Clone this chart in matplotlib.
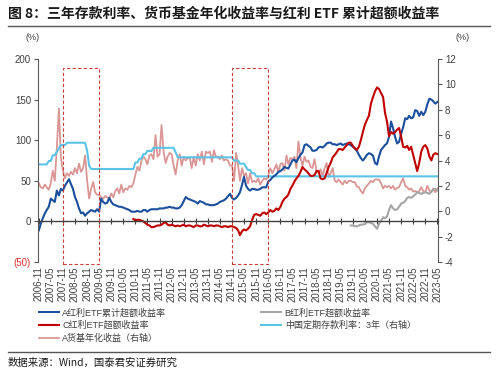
import numpy as np
import pandas as pd
import matplotlib
matplotlib.use("Agg")
import matplotlib.pyplot as plt
from matplotlib.patches import Rectangle
from matplotlib.lines import Line2D

plt.rcParams['font.family'] = ['Liberation Sans', 'Noto Sans CJK SC', 'DejaVu Sans']

# monthly dates 2006-11 .. 2023-05
dates = pd.date_range('2006-11-01', '2023-05-01', freq='MS')
tick_dates = pd.date_range('2006-11-01', '2023-05-01', freq='6MS')

# A dividend ETF cumulative excess return (left axis, %)
a_cum_excess = [
    -11, -3, 4, 10, 14, 18, 28, 26, 24, 38,
    32, 40, 38, 44, 48, 52, 46, 40, 30, 24,
    16, 10, 11, 7, 10, 12, 14, 13, 12, 15,
    12, 28, 24, 22, 23, 29, 24, 21, 20, 19,
    18, 18, 17, 16, 15, 14, 12, 12, 12, 13,
    12, 12, 14, 14, 12, 14, 15, 15, 15, 15,
    16, 16, 16, 17, 17, 18, 17, 17, 16, 16,
    17, 20, 25, 30, 28, 27, 26, 25, 24, 22,
    25, 24, 23, 21, 21, 20, 20, 20, 21, 22,
    24, 25, 26, 28, 31, 34, 29, 27, 29, 32,
    36, 45, 55, 44, 40, 38, 40, 40, 39, 39,
    40, 42, 42, 42, 49, 51, 54, 56, 58, 61,
    62, 64, 67, 66, 65, 70, 75, 76, 73, 78,
    82, 85, 94, 95, 93, 91, 87, 87, 88, 91,
    92, 91, 93, 96, 97, 97, 95, 95, 94, 95,
    96, 94, 95, 96, 95, 94, 92, 90, 87, 82,
    78, 75, 78, 82, 84, 83, 81, 72, 70, 80,
    88, 91, 94, 96, 104, 123, 115, 104, 96, 98,
    108, 116, 127, 126, 130, 127, 128, 137, 136, 130,
    135, 131, 135, 144, 151, 150, 148, 145, 147,
]

# C dividend ETF excess return (left axis, %), from 2010-10
c_start = '2010-10-01'
c_excess = [
    3, 1, 2,
    2, 1, 0, -2, -4, -5, -7, -7, -6, -5,
    -5, -4, -2, -1, -4, -5, -4, -5, -6, -5,
    -6, -5, -4, -6, -5, -5, -6, -7, -5, -5,
    -6, -6, -4, -5, -6, -5, -5, -6, -5, -5,
    -6, -7, -6, -6, -7, -6, -6, -7, -8, -11,
    -17, -12, -10, -11, -9, -6, 2, 8, 9, 8,
    7, 10, 11, 9, 11, 14, 12, 13, 16, 14,
    18, 24, 28, 30, 33, 40, 44, 49, 53, 56,
    61, 67, 64, 62, 59, 56, 56, 57, 62, 62,
    53, 52, 53, 60, 67, 72, 79, 82, 85, 89,
    89, 88, 91, 94, 97, 97, 93, 90, 88, 92,
    100, 110, 119, 125, 130, 145, 153, 160, 165, 163,
    158, 153, 134, 123, 105, 110, 108, 110, 113, 115,
    104, 92, 91, 93, 88, 92, 82, 72, 62, 72,
    86, 92, 94, 90, 80, 75, 82, 84, 83,
]

# B dividend ETF excess return (left axis, %), from 2019-10
b_start = '2019-10-01'
b_excess = [
    -5, -5, -6, -6, -5,
    -4, -4, -3, -1, -1, -2, -3, -6, -9, -3,
    1, 5, 4, 6, 14, 20, 16, 14, 15, 18,
    22, 23, 25, 29, 30, 29, 31, 33, 36, 35,
    34, 35, 36, 35, 34, 37, 39, 40, 38,
]

# A money fund annualized yield (right axis, %)
mmf_yield = [
    2.2, 1.9, 1.8, 2.1, 1.9, 1.7, 2.2, 3.2, 2.4, 5.0,
    8.1, 4.2, 3.2, 2.6, 3.0, 2.8, 3.1, 2.9, 3.4, 3.0,
    3.75, 3.1, 3.4, 4.4, 2.4, 1.0, 1.8, 2.3, 1.5, 1.3,
    1.3, 1.1, 1.0, 1.2, 1.1, 1.0, 1.4, 1.1, 1.6, 1.8,
    1.4, 2.1, 1.5, 1.8, 1.7, 2.0, 1.9, 2.2, 2.9, 3.5,
    3.2, 4.0, 4.3, 4.1, 3.7, 4.4, 4.5, 4.1, 6.0, 4.3,
    4.5, 6.8, 4.7, 3.8, 4.3, 4.6, 4.5, 3.6, 2.9, 4.0,
    4.5, 3.6, 4.3, 4.0, 4.2, 4.2, 3.4, 4.3, 3.6, 4.5,
    4.0, 4.7, 3.7, 4.7, 4.6, 4.7, 3.9, 4.8, 4.3, 4.3,
    4.1, 4.4, 4.0, 4.1, 4.0, 3.6, 3.6, 2.4, 4.6, 3.6,
    2.4, 3.4, 2.8, 3.0, 2.2, 3.0, 2.3, 2.4, 2.3, 2.6,
    2.1, 2.4, 2.6, 2.5, 2.8, 3.4, 3.0, 3.3, 3.7, 3.1,
    3.7, 3.8, 3.2, 4.4, 3.7, 4.2, 4.1, 4.3, 3.4, 5.5,
    4.2, 3.6, 4.3, 3.9, 4.0, 3.5, 3.4, 4.1, 3.2, 3.0,
    3.3, 2.8, 3.4, 3.8, 2.7, 3.0, 3.4, 2.4, 2.3, 2.5,
    2.3, 2.1, 2.4, 2.2, 2.4, 2.4, 2.3, 2.3, 1.95, 1.9,
    1.6, 1.4, 1.8, 2.0, 2.2, 2.4, 2.3, 2.5, 2.5, 2.5,
    2.2, 1.8, 2.0, 1.9, 2.0, 1.8, 2.0, 1.7, 1.85, 1.9,
    2.3, 2.6, 2.0, 1.9, 1.7, 1.8, 1.55, 1.6, 1.5, 1.6,
    1.9, 1.6, 1.5, 2.0, 1.65, 1.5, 1.8, 1.5, 1.8,
]

# China 3-year time deposit rate (right axis, %): change dates and new rate
dep_dates = ['2006-11-01', '2007-03-18', '2007-05-19', '2007-07-21', '2007-08-22',
             '2007-09-15', '2007-12-21', '2008-10-09', '2008-10-30', '2008-11-27',
             '2008-12-23', '2010-10-20', '2010-12-26', '2011-02-09', '2011-04-06',
             '2011-07-07', '2012-06-08', '2012-07-06', '2014-11-22', '2015-03-01',
             '2015-05-11', '2015-06-28', '2015-08-26', '2015-10-24']
dep_rates = [3.69, 3.96, 4.41, 4.68, 4.95, 5.22, 5.40, 5.13, 4.77, 3.60,
             3.33, 3.85, 4.15, 4.50, 4.75, 5.00, 4.65, 4.25, 4.00, 3.75,
             3.50, 3.25, 3.00, 2.75]

# highlighted periods
boxes = [('2007-11-01', '2009-05-01'), ('2014-11-01', '2016-05-01')]

left_ticks = [-50, 0, 50, 100, 150, 200]
left_labels = ['(50)', '0', '50', '100', '150', '200']
right_ticks = [-4, -2, 0, 2, 4, 6, 8, 10, 12]

BLUE = '#1C4F9C'
RED = '#C00000'
GRAY = '#A6A6A6'
LBLUE = '#5BC4E6'
PINK = '#D99694'
TXT = '#404040'

# monthly deposit rate, carried forward from each change
dep = pd.Series(dep_rates, index=pd.to_datetime(dep_dates))
dep_m = dep.reindex(dep.index.union(dates)).ffill().reindex(dates)

fig = plt.figure(figsize=(5, 3.77), dpi=100)
ax = fig.add_axes([0.076, 0.305, 0.80, 0.5385])
ax2 = ax.twinx()
ax.set_zorder(ax2.get_zorder() + 1)
ax.patch.set_visible(False)

l_mmf, = ax2.plot(dates, mmf_yield, color=PINK, lw=1.3)
l_dep, = ax2.plot(dates, dep_m.values, color=LBLUE, lw=1.5)

l_a, = ax.plot(dates, a_cum_excess, color=BLUE, lw=1.5)
c_dates = pd.date_range(c_start, periods=len(c_excess), freq='MS')
l_c, = ax.plot(c_dates, c_excess, color=RED, lw=1.5)
b_dates = pd.date_range(b_start, periods=len(b_excess), freq='MS')
l_b, = ax.plot(b_dates, b_excess, color=GRAY, lw=1.5)

xmin = pd.Timestamp('2006-10-20')
xmax = pd.Timestamp('2023-05-12')
ax.set_xlim(xmin, xmax)
ax.set_ylim(-50, 200)
ax2.set_ylim(-4, 12)

# dashed highlight boxes
for s, e in boxes:
    x0 = matplotlib.dates.date2num(pd.Timestamp(s))
    x1 = matplotlib.dates.date2num(pd.Timestamp(e))
    ax.add_patch(Rectangle((x0, -53), x1 - x0, 242, fill=False, ec='#C8413A',
                           lw=0.8, ls=(0, (3, 2)), clip_on=False, zorder=5))

# axes styling
for a in (ax, ax2):
    a.spines['top'].set_visible(False)
ax.spines['right'].set_visible(False)
ax2.spines['left'].set_visible(False)
ax2.spines['bottom'].set_visible(False)
ax.spines['left'].set_color('#595959')
ax2.spines['right'].set_color('#595959')
ax.spines['bottom'].set_position(('data', 0))
ax.spines['bottom'].set_color('#404040')
ax.spines['bottom'].set_linewidth(1.0)

ax.set_xticks(tick_dates)
ax.tick_params(axis='x', direction='inout', length=4, color='#404040', labelbottom=False)
ax2.tick_params(axis='x', length=0, labelbottom=False)

sec = ax.secondary_xaxis(0.0)
sec.set_xticks(tick_dates)
sec.set_xticklabels([d.strftime('%Y-%m') for d in tick_dates], rotation=90, fontsize=7, color=TXT)
sec.tick_params(length=0, pad=3)
sec.spines['bottom'].set_visible(False)

ax.set_yticks(left_ticks)
ax.set_yticklabels(left_labels, fontsize=7, color=TXT)
ax.get_yticklabels()[0].set_color('#E03030')
ax.tick_params(axis='y', length=3, color='#595959', pad=2)
ax2.set_yticks(right_ticks)
ax2.set_yticklabels([str(t) for t in right_ticks], fontsize=7, color=TXT)
ax2.tick_params(axis='y', length=3, color='#595959', pad=2)

fig.text(0.066, 0.893, '(%)', fontsize=6.5, color=TXT, ha='center')
fig.text(0.925, 0.893, '(%)', fontsize=6.5, color=TXT, ha='center')

# title and rules
fig.text(0.016, 0.965, '图 8：三年存款利率、货币基金年化收益率与红利 ETF 累计超额收益率',
         fontsize=10, fontweight='bold', color='#1A1A1A', va='center',
         family=['Noto Sans CJK SC', 'DejaVu Sans'])
fig.add_artist(Line2D([0.016, 0.98], [0.931, 0.931], color='#555555', lw=1.0))
fig.add_artist(Line2D([0.016, 0.98], [0.066, 0.066], color='#555555', lw=1.0))
fig.text(0.016, 0.037, '数据来源：Wind，国泰君安证券研究', fontsize=7.5, color='#1A1A1A',
         va='center', family=['Noto Sans CJK SC', 'DejaVu Sans'])

handles = [l_a, l_c, l_mmf, l_b, l_dep]
labels = ['A红利ETF累计超额收益率', 'C红利ETF超额收益率', 'A货基年化收益（右轴）',
          'B红利ETF超额收益率', '中国定期存款利率：3年（右轴）']
leg = fig.legend(handles, labels, ncol=2, loc='upper left', bbox_to_anchor=(0.078, 0.183),
                 frameon=False, handlelength=2.2, handletextpad=0.4,
                 columnspacing=10.5, labelspacing=0.38, borderaxespad=0, borderpad=0,
                 prop={'family': ['Liberation Sans', 'Noto Sans CJK SC'], 'size': 6.5})
for t in leg.get_texts():
    t.set_color(TXT)

fig.savefig('out.png', dpi=100)
